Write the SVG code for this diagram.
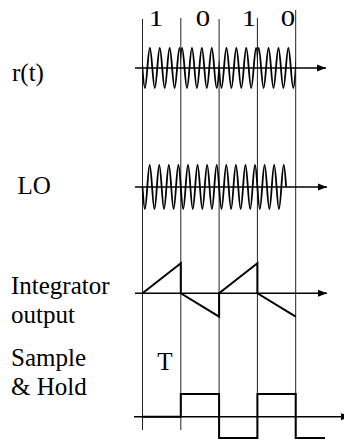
<svg xmlns="http://www.w3.org/2000/svg" xmlns:xlink="http://www.w3.org/1999/xlink" width="344" height="443" viewBox="0 0 344 443">
<style>
text{font-family:'Liberation Serif','DejaVu Serif',serif;fill:#000;}
.lbl{font-size:25px;}
.dig{font-size:24px;text-anchor:middle;}
.grid{stroke:#222;stroke-width:1;fill:none;}
.axis{stroke:#000;stroke-width:1.4;fill:none;marker-end:url(#ah);}
.wave{stroke:#000;stroke-width:1.8;fill:none;}
.sig{stroke:#000;stroke-width:2;fill:none;stroke-linejoin:miter;}
</style>
<defs>
<marker id="ah" markerWidth="10" markerHeight="8" refX="9" refY="4" orient="auto" markerUnits="userSpaceOnUse"><path d="M0,0.5 L9,4 L0,7.5 z" fill="#000"/></marker>
<clipPath id="c1" clipPathUnits="userSpaceOnUse"><rect x="142.5" y="30" width="38.3" height="76"/></clipPath>
<g id="rbit" clip-path="url(#c1)"><path class="wave" d="M137.475,68 c0.825,-10.47 1.65,-20 2.475,-20 s1.65,9.53 2.475,20 s1.65,20 2.475,20 s1.65,-9.53 2.475,-20 s1.65,-20 2.475,-20 s1.65,9.53 2.475,20 s1.65,20 2.475,20 s1.65,-9.53 2.475,-20 s1.65,-20 2.475,-20 s1.65,9.53 2.475,20 s1.65,20 2.475,20 s1.65,-9.53 2.475,-20 s1.65,-20 2.475,-20 s1.65,9.53 2.475,20 s1.65,20 2.475,20 s1.65,-9.53 2.475,-20 s1.65,-20 2.475,-20 s1.65,9.53 2.475,20 s1.65,20 2.475,20 s1.65,-9.53 2.475,-20 s1.65,-20 2.475,-20"/></g>
</defs>
<rect width="344" height="443" fill="#fff"/>
<g id="labels" font-family="Liberation Serif, DejaVu Serif, serif">
<text class="lbl" x="12" y="81">r(t)</text>
<text class="lbl" x="17.5" y="194">LO</text>
<text class="lbl" x="11" y="294">Integrator</text>
<text class="lbl" x="11" y="323">output</text>
<text class="lbl" x="11" y="366">Sample</text>
<text class="lbl" x="11" y="395">&amp; Hold</text>
<text class="lbl" x="165" y="370" text-anchor="middle">T</text>
<text class="dig" transform="translate(156,25.5) scale(1.2,1)">1</text>
<text class="dig" transform="translate(203,25.5) scale(1.2,1)">0</text>
<text class="dig" transform="translate(249,25.5) scale(1.2,1)">1</text>
<text class="dig" transform="translate(288,25.5) scale(1.2,1)">0</text>
</g>
<g id="grid">
<line class="grid" x1="142.5" y1="19" x2="142.5" y2="430"/>
<line class="grid" x1="180.8" y1="18" x2="180.8" y2="430"/>
<line class="grid" x1="219.1" y1="19" x2="219.1" y2="438"/>
<line class="grid" x1="257.4" y1="18" x2="257.4" y2="438"/>
<line class="grid" x1="295.7" y1="10" x2="295.7" y2="438"/>
</g>
<g id="connectors">
<line class="axis" x1="135" y1="68" x2="326" y2="68"/>
<line class="axis" x1="135" y1="187" x2="327" y2="187"/>
<line class="axis" x1="135" y1="293.3" x2="327" y2="293.3"/>
<line class="axis" x1="134" y1="416.7" x2="350" y2="416.7"/>
</g>
<g id="rt">
<use xlink:href="#rbit" href="#rbit"/>
<use xlink:href="#rbit" href="#rbit" transform="translate(361.6,0) scale(-1,1)"/>
<use xlink:href="#rbit" href="#rbit" transform="translate(76.6,0)"/>
<use xlink:href="#rbit" href="#rbit" transform="translate(438.2,0) scale(-1,1)"/>
</g>
<g id="lo">
<path class="wave" d="M142.5,187 c0.798,11.52 1.596,22 2.394,22 s1.596,-10.48 2.394,-22 s1.596,-22 2.394,-22 s1.596,10.48 2.394,22 s1.596,22 2.394,22 s1.596,-10.48 2.394,-22 s1.596,-22 2.394,-22 s1.596,10.48 2.394,22 s1.596,22 2.394,22 s1.596,-10.48 2.394,-22 s1.596,-22 2.394,-22 s1.596,10.48 2.394,22 s1.596,22 2.394,22 s1.596,-10.48 2.394,-22 s1.596,-22 2.394,-22 s1.596,10.48 2.394,22 s1.596,22 2.394,22 s1.596,-10.48 2.394,-22 s1.596,-22 2.394,-22 s1.596,10.48 2.394,22 s1.596,22 2.394,22 s1.596,-10.48 2.394,-22 s1.596,-22 2.394,-22 s1.596,10.48 2.394,22 s1.596,22 2.394,22 s1.596,-10.48 2.394,-22 s1.596,-22 2.394,-22 s1.596,10.48 2.394,22 s1.596,22 2.394,22 s1.596,-10.48 2.394,-22 s1.596,-22 2.394,-22 s1.596,10.48 2.394,22 s1.596,22 2.394,22 s1.596,-10.48 2.394,-22 s1.596,-22 2.394,-22 s1.596,10.48 2.394,22 s1.596,22 2.394,22 s1.596,-10.48 2.394,-22 s1.596,-22 2.394,-22 s1.596,10.48 2.394,22 s1.596,22 2.394,22 s1.596,-10.48 2.394,-22 s1.596,-22 2.394,-22 s1.596,10.48 2.394,22 s1.596,22 2.394,22 s1.596,-10.48 2.394,-22 s1.596,-22 2.394,-22 s1.596,10.48 2.394,22 s1.596,22 2.394,22 s1.596,-10.48 2.394,-22 s1.596,-22 2.394,-22 s1.596,10.48 2.394,22 s1.596,22 2.394,22 s1.596,-10.48 2.394,-22 s1.596,-22 2.394,-22 s1.596,10.48 2.394,22 s1.596,22 2.394,22 s1.596,-10.48 2.394,-22 s1.596,-22 2.394,-22 s1.596,10.48 2.394,22"/>
</g>
<g id="integrator">
<polyline class="sig" points="142.5,293.3 180.8,263.3 180.8,293.3 219.1,316.7 219.1,293.3 257.4,263.3 257.4,293.3 295.7,316.7"/>
</g>
<g id="samplehold">
<polyline class="sig" points="142.5,416.7 180.8,416.7 180.8,394 219.1,394 219.1,438 257.4,438 257.4,394 295.7,394 295.7,438 325,438"/>
</g>
</svg>
